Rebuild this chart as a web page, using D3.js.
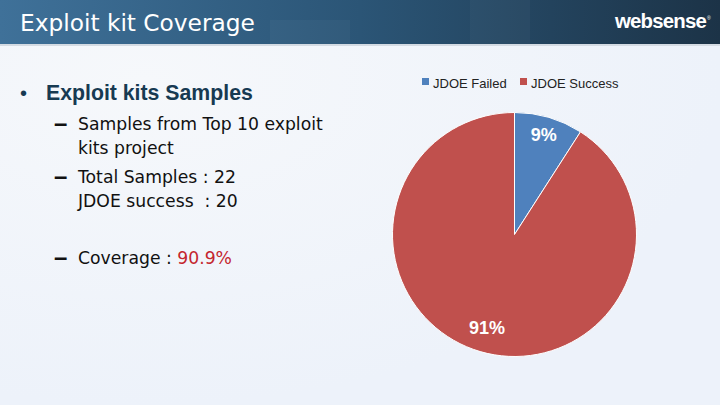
<!DOCTYPE html>
<html><head><meta charset="utf-8">
<script src="https://cdn.jsdelivr.net/npm/d3@7"></script>
<style>html,body{margin:0;padding:0;background:#eef3fa;}svg{display:block;}</style>
</head><body>
<svg id="c" width="720" height="405"></svg>
<script>
const categories = ["JDOE Failed", "JDOE Success"];
const values = [2, 20];
const labels = ["9%", "91%"];
const colors = ["#4F81BD", "#C0504D"];

const svg = d3.select("#c");
const defs = svg.append("defs");
const hg = defs.append("linearGradient").attr("id","hg").attr("x1","0").attr("x2","1");
hg.append("stop").attr("offset","0").attr("stop-color","#3f7199");
hg.append("stop").attr("offset","0.5").attr("stop-color","#2b5576");
hg.append("stop").attr("offset","1").attr("stop-color","#1c3347");
const bg = defs.append("radialGradient").attr("id","bg").attr("cx","0.2").attr("cy","0.2").attr("r","0.8");
bg.append("stop").attr("offset","0").attr("stop-color","#f6f8fb");
bg.append("stop").attr("offset","1").attr("stop-color","#edf2fa");

svg.append("rect").attr("width",720).attr("height",405).attr("fill","url(#bg)");
svg.append("rect").attr("y",43).attr("width",720).attr("height",3).attr("fill","#d4dbe3");
svg.append("rect").attr("width",720).attr("height",44).attr("fill","url(#hg)");
svg.append("rect").attr("x",270).attr("y",20).attr("width",80).attr("height",24).attr("fill","#ffffff").attr("opacity",0.03);
svg.append("rect").attr("x",470).attr("y",0).attr("width",60).attr("height",44).attr("fill","#ffffff").attr("opacity",0.03);

function fit(sel, target){
  const w = sel.node().getComputedTextLength();
  const fs = parseFloat(sel.attr("font-size"));
  const nfs = fs*target/w;
  sel.attr("font-size", nfs);
  return nfs;
}

const ffT = "DejaVu Sans, Verdana, sans-serif";
const title = svg.append("text").attr("x",20).attr("y",31).attr("fill","#ffffff")
  .attr("font-family",ffT).attr("font-size",24).text("Exploit kit Coverage");
fit(title, 235);
const logo = svg.append("text").attr("x",615).attr("y",28).attr("fill","#ffffff")
  .attr("font-family","Liberation Sans, Arial, sans-serif").attr("font-size",20).attr("font-weight","bold")
  .attr("letter-spacing",-0.8).text("websense");
fit(logo, 91);
svg.append("text").attr("x",707).attr("y",20).attr("fill","#ffffff")
  .attr("font-family","Liberation Sans, Arial, sans-serif").attr("font-size",5).text("®");

const ff = "Liberation Sans, Arial, sans-serif";
svg.append("text").attr("x",20).attr("y",100).attr("fill","#173a52").attr("font-family",ff).attr("font-size",20).text("•");
const head = svg.append("text").attr("x",46).attr("y",100).attr("fill","#173a52").attr("font-family",ff).attr("font-size",20).attr("font-weight","bold").text("Exploit kits Samples");
fit(head, 207);

const ffS = "DejaVu Sans, Verdana, sans-serif";
const sub = [
  {dash:true, y:130, t:"Samples from Top 10 exploit"},
  {dash:false, y:154, t:"kits project"},
  {dash:true, y:183, t:"Total Samples : 22"},
  {dash:false, y:207, t:"JDOE success  : 20"},
];
function dash(y){
  svg.append("text").attr("x",54).attr("y",y+1).attr("fill","#111").attr("font-family",ff).attr("font-size",24).attr("font-weight","bold").attr("transform",`translate(0,0)`).text("–");
}
const subSel = sub.map(s=>{
  if(s.dash) dash(s.y);
  return svg.append("text").attr("x",78).attr("y",s.y).attr("fill","#111").attr("font-family",ffS).attr("font-size",17).style("white-space","pre").text(s.t);
});
const sfs = fit(subSel[0], 245);
subSel.forEach(s=>s.attr("font-size", sfs));
dash(264);
const cov = svg.append("text").attr("x",78).attr("y",264).attr("fill","#111").attr("font-family",ffS).attr("font-size",sfs);
cov.append("tspan").text("Coverage : ");
cov.append("tspan").attr("fill","#c4262e").text("90.9%");

// Pie
const cx = 514.5, cy = 234.5, r = 122;
const pie = d3.pie().sort(null).value(d=>d)(values);
const arc = d3.arc().innerRadius(0).outerRadius(r);
const g = svg.append("g").attr("transform",`translate(${cx},${cy})`);
g.selectAll("path").data(pie).join("path").attr("d",arc)
  .attr("fill",(d,i)=>colors[i]).attr("stroke","#ffffff").attr("stroke-width",1);
const lr = [0.85, 0.8];
g.selectAll("text.lbl").data(pie).join("text").attr("class","lbl")
  .attr("transform",(d,i)=>`translate(${d3.arc().innerRadius(r*lr[i]).outerRadius(r*lr[i]).centroid(d)})`)
  .attr("text-anchor","middle").attr("dy","0.35em")
  .attr("fill","#ffffff").attr("font-family",ff).attr("font-size",18).attr("font-weight","bold")
  .text((d,i)=>labels[i]);

// Legend
const lx = [422, 520];
categories.forEach((c,i)=>{
  svg.append("rect").attr("x",lx[i]).attr("y",78).attr("width",7).attr("height",7).attr("fill",colors[i]);
  svg.append("text").attr("x",lx[i]+11).attr("y",87.5).attr("fill","#222").attr("font-family",ff).attr("font-size",13).text(c);
});
</script>
</body></html>
